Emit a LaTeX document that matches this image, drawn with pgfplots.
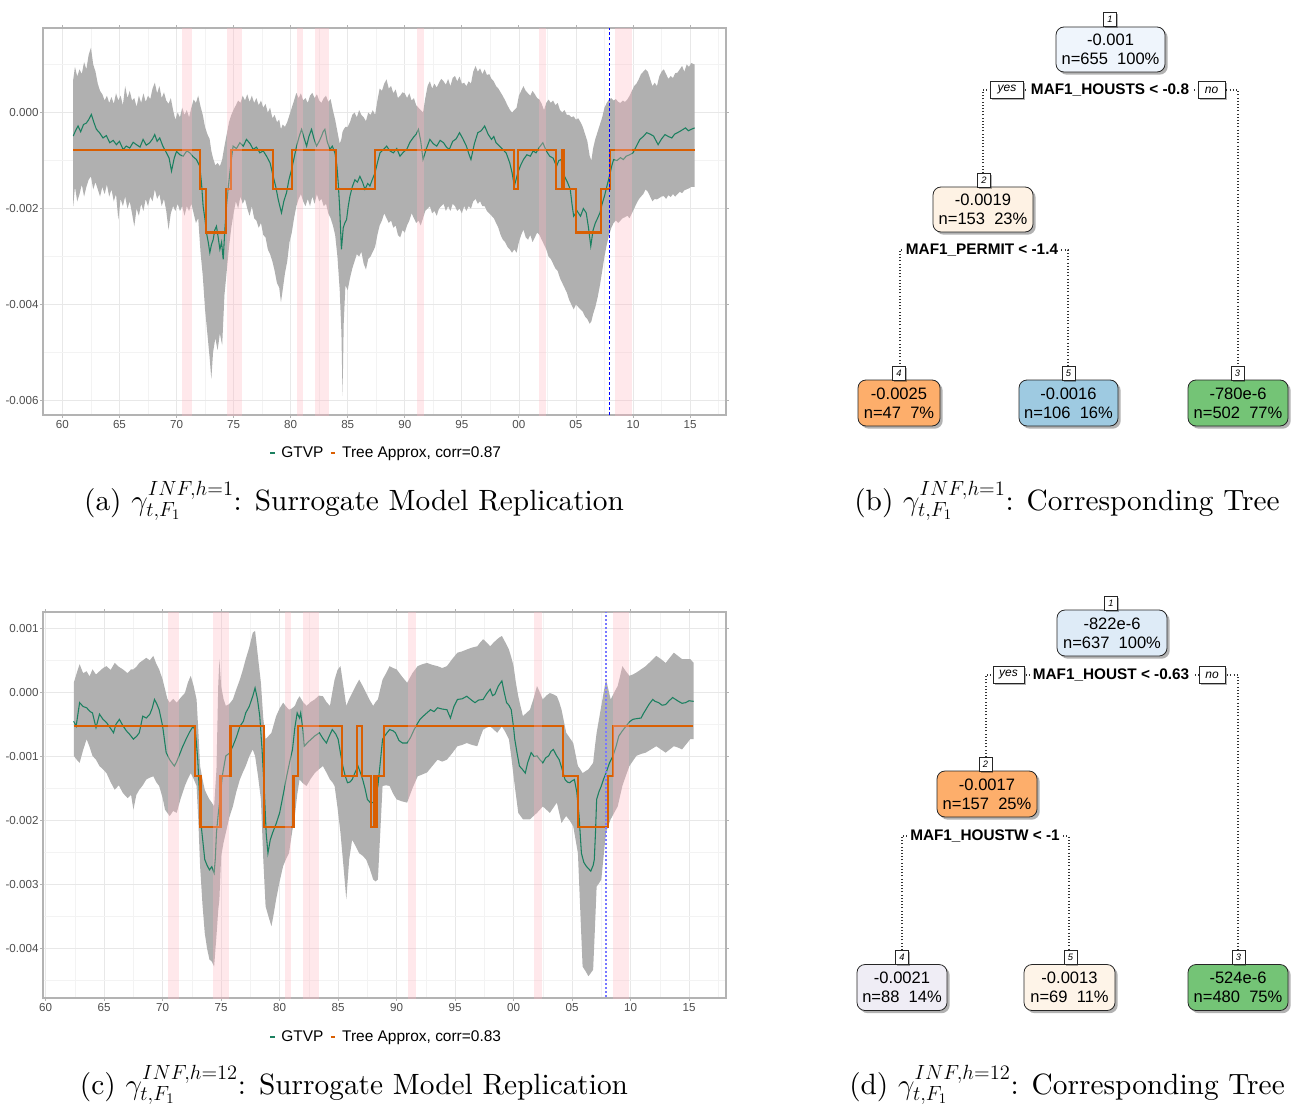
\RequirePackage{fix-cm}
\documentclass[border=0pt]{standalone}
\usepackage{pgfplots}
\pgfplotsset{compat=1.18}
\usepgfplotslibrary{fillbetween}
\usepackage{pgfplotstable}
\usetikzlibrary{shadows}
\usepackage{fontspec}
\newfontfamily\lib{Liberation Sans}
\newfontfamily\capfont{lmroman10-regular}[Extension=.otf]

\definecolor{bandC}{RGB}{176,176,176}
\definecolor{recC}{RGB}{255,182,193}
\definecolor{gtvp}{RGB}{27,128,96}
\definecolor{treeC}{RGB}{217,95,2}
\definecolor{frameC}{RGB}{179,179,179}
\definecolor{gridMaj}{RGB}{232,232,232}
\definecolor{gridMin}{RGB}{243,243,243}
\definecolor{tickC}{RGB}{77,77,77}
\definecolor{nOneB}{RGB}{239,245,252}
\definecolor{nTwoB}{RGB}{254,242,228}
\definecolor{nOrange}{RGB}{253,174,107}
\definecolor{nBlue}{RGB}{158,202,225}
\definecolor{nGreen}{RGB}{116,196,118}
\definecolor{nOneD}{RGB}{222,235,247}
\definecolor{nLav}{RGB}{239,237,245}
\definecolor{nCream}{RGB}{254,244,232}

% ---------------- top panel data (values in units of 0.001) ----------------
\pgfplotstableread{
t lo hi
1960.95 -1.95 0.69
1961.1 -1.55 0.95
1961.3 -1.85 0.75
1961.5 -1.70 0.90
1961.7 -1.50 0.80
1961.9 -1.75 1.05
1962.1 -1.55 0.90
1962.3 -1.40 1.20
1962.5 -1.33 1.35
1962.7 -1.60 1.00
1962.9 -1.45 0.85
1963.1 -1.60 0.60
1963.3 -1.75 0.45
1963.5 -1.55 0.38
1963.7 -1.70 0.25
1963.9 -1.50 0.35
1964.1 -1.75 0.20
1964.3 -1.60 0.32
1964.5 -1.85 0.18
1964.7 -1.70 0.40
1964.9 -2.23 0.25
1965.1 -1.80 0.35
1965.3 -1.95 0.15
1965.5 -1.75 0.55
1965.7 -2.00 0.30
1965.9 -1.85 0.45
1966.1 -2.10 0.25
1966.3 -2.37 0.30
1966.5 -2.00 0.12
1966.7 -2.15 0.35
1966.9 -1.90 0.20
1967.1 -2.05 0.40
1967.3 -1.80 0.22
1967.5 -1.95 0.35
1967.7 -1.75 0.28
1967.9 -1.85 0.50
1968.1 -1.60 0.62
1968.3 -1.80 0.40
1968.5 -1.70 0.55
1968.7 -1.95 0.30
1968.9 -1.80 0.42
1969.1 -2.05 0.25
1969.3 -2.44 0.18
1969.5 -2.10 0.30
1969.7 -1.95 0.05
1969.9 -2.05 -0.15
1970.1 -1.90 0.00
1970.3 -2.05 -0.10
1970.5 -1.95 0.10
1970.7 -2.15 -0.05
1970.9 -1.95 0.05
1971.1 -2.05 -0.10
1971.3 -1.90 0.10
1971.5 -2.10 0.27
1971.7 -2.30 0.20
1971.9 -2.20 0.35
1972.1 -2.90 0.13
1972.3 -3.40 -0.05
1972.5 -4.10 -0.30
1972.7 -4.60 -0.45
1972.9 -5.10 -0.55
1973.05 -5.55 -0.80
1973.2 -5.00 -0.95
1973.4 -4.70 -1.10
1973.6 -4.95 -1.05
1973.8 -4.60 -1.12
1974.0 -4.85 -0.98
1974.2 -3.80 -0.70
1974.4 -3.30 -0.45
1974.6 -2.80 -0.20
1974.8 -2.40 -0.05
1975.0 -2.10 0.06
1975.2 -1.85 0.15
1975.4 -2.00 0.25
1975.6 -1.75 0.20
1975.8 -1.90 0.35
1976.0 -1.80 0.25
1976.2 -2.00 0.38
1976.4 -2.15 0.22
1976.6 -1.95 0.35
1976.8 -2.20 0.20
1977.0 -2.25 0.30
1977.2 -2.40 0.15
1977.4 -2.30 0.25
1977.6 -2.55 0.10
1977.8 -2.60 0.18
1978.0 -2.85 0.00
1978.2 -2.95 0.10
1978.4 -3.10 -0.12
1978.6 -3.30 -0.05
1978.8 -3.55 -0.20
1979.0 -3.65 -0.15
1979.15 -3.95 -0.35
1979.3 -3.70 -0.25
1979.5 -3.35 -0.30
1979.7 -3.10 -0.20
1979.9 -2.70 -0.05
1980.1 -2.50 0.10
1980.3 -2.20 0.25
1980.5 -1.95 0.41
1980.7 -1.80 0.30
1980.9 -1.70 0.40
1981.1 -1.85 0.25
1981.3 -1.95 0.30
1981.5 -1.80 0.20
1981.7 -1.95 0.35
1981.9 -1.75 0.41
1982.1 -1.90 0.30
1982.3 -1.70 0.38
1982.5 -1.85 0.25
1982.7 -1.80 0.20
1982.9 -1.95 0.30
1983.1 -1.90 0.35
1983.3 -2.10 0.22
1983.5 -2.20 0.28
1983.7 -2.35 0.05
1983.9 -2.55 -0.15
1984.1 -3.00 -0.40
1984.3 -3.70 -0.65
1984.45 -4.60 -0.55
1984.55 -5.90 -0.40
1984.65 -4.40 -0.35
1984.8 -3.60 -0.30
1985.0 -3.70 -0.30
1985.2 -3.45 -0.20
1985.4 -3.25 -0.05
1985.6 -3.10 0.00
1985.8 -2.95 -0.10
1986.0 -3.00 0.05
1986.2 -2.90 -0.05
1986.4 -3.15 -0.10
1986.6 -3.27 -0.18
1986.8 -3.05 0.00
1987.0 -3.00 -0.05
1987.2 -2.90 0.05
1987.4 -2.80 -0.05
1987.6 -2.55 0.25
1987.8 -2.35 0.50
1988.0 -2.25 0.45
1988.2 -2.10 0.60
1988.4 -2.20 0.69
1988.6 -2.30 0.50
1988.8 -2.25 0.55
1989.0 -2.40 0.40
1989.2 -2.35 0.48
1989.4 -2.55 0.30
1989.6 -2.60 0.35
1989.8 -2.45 0.42
1990.0 -2.50 0.40
1990.2 -2.35 0.30
1990.4 -2.25 0.40
1990.6 -2.10 0.25
1990.8 -2.20 0.30
1991.0 -2.30 0.15
1991.2 -2.25 0.10
1991.4 -2.35 0.05
1991.6 -2.20 0.00
1991.8 -2.05 0.30
1992.0 -2.00 0.55
1992.2 -1.95 0.65
1992.4 -2.10 0.50
1992.6 -2.05 0.60
1992.8 -2.15 0.52
1993.0 -2.00 0.62
1993.2 -1.95 0.70
1993.4 -1.90 0.65
1993.6 -2.05 0.58
1993.8 -1.95 0.70
1994.0 -2.05 0.55
1994.2 -1.90 0.72
1994.4 -1.95 0.76
1994.6 -2.05 0.65
1994.8 -2.00 0.75
1995.0 -2.10 0.60
1995.2 -1.95 0.62
1995.4 -2.05 0.55
1995.6 -1.95 0.65
1995.8 -2.00 0.60
1996.0 -1.85 0.85
1996.2 -1.80 0.97
1996.4 -1.90 0.85
1996.6 -1.85 0.92
1996.8 -1.95 0.80
1997.0 -1.95 0.90
1997.2 -2.05 0.78
1997.4 -2.10 0.80
1997.6 -2.15 0.70
1997.8 -2.20 0.65
1998.0 -2.30 0.55
1998.2 -2.40 0.50
1998.4 -2.55 0.42
1998.6 -2.65 0.34
1998.8 -2.70 0.25
1999.0 -2.80 0.15
1999.2 -2.85 0.06
1999.4 -2.92 0.00
1999.6 -2.85 0.05
1999.8 -2.92 0.10
2000.0 -2.70 0.35
2000.2 -2.55 0.45
2000.4 -2.44 0.55
2000.6 -2.60 0.45
2000.8 -2.65 0.40
2001.0 -2.55 0.35
2001.2 -2.70 0.45
2001.4 -2.60 0.38
2001.6 -2.50 0.30
2001.8 -2.55 0.27
2002.0 -2.65 0.18
2002.2 -2.75 0.05
2002.4 -2.85 0.20
2002.6 -3.00 0.27
2002.8 -3.05 0.20
2003.0 -3.15 0.25
2003.2 -3.25 0.15
2003.4 -3.30 0.20
2003.6 -3.45 0.05
2003.8 -3.55 0.00
2004.0 -3.65 0.05
2004.2 -3.75 -0.05
2004.4 -3.90 -0.05
2004.6 -4.00 -0.10
2004.8 -4.10 -0.08
2005.0 -4.00 -0.15
2005.2 -4.05 -0.12
2005.4 -4.10 -0.20
2005.6 -4.15 -0.30
2005.8 -4.25 -0.45
2006.0 -4.30 -0.60
2006.2 -4.40 -0.90
2006.35 -4.35 -1.00
2006.5 -4.20 -0.75
2006.7 -4.05 -0.55
2006.9 -3.85 -0.40
2007.1 -3.60 -0.25
2007.3 -3.30 -0.10
2007.5 -3.00 0.10
2007.7 -2.75 0.20
2007.9 -2.55 0.27
2008.1 -2.40 0.30
2008.3 -2.30 0.25
2008.5 -2.25 0.28
2008.7 -2.30 0.22
2008.9 -2.25 0.20
2009.1 -2.20 0.25
2009.3 -2.18 0.22
2009.5 -2.15 0.27
2009.7 -2.20 0.35
2009.9 -2.10 0.45
2010.1 -2.00 0.55
2010.3 -1.90 0.60
2010.5 -1.81 0.69
2010.7 -1.75 0.80
2010.9 -1.70 0.85
2011.1 -1.60 0.90
2011.3 -1.65 0.85
2011.5 -1.75 0.70
2011.7 -1.85 0.55
2011.9 -1.80 0.62
2012.1 -1.81 0.55
2012.3 -1.78 0.75
2012.5 -1.75 0.85
2012.7 -1.74 0.90
2012.9 -1.80 0.80
2013.1 -1.72 0.70
2013.3 -1.76 0.76
2013.5 -1.70 0.72
2013.7 -1.75 0.82
2013.9 -1.70 0.83
2014.1 -1.65 0.90
2014.3 -1.68 0.97
2014.5 -1.62 0.85
2014.7 -1.60 1.00
2014.9 -1.58 0.95
2015.1 -1.55 1.03
2015.4 -1.55 1.00
}\bandA

\pgfplotstableread{
t g
1960.95 -0.49
1961.15 -0.38
1961.37 -0.28
1961.6 -0.40
1961.85 -0.25
1962.1 -0.22
1962.3 -0.15
1962.54 -0.04
1962.75 -0.20
1962.98 -0.35
1963.25 -0.42
1963.56 -0.53
1963.85 -0.48
1964.15 -0.63
1964.45 -0.58
1964.73 -0.67
1965.0 -0.60
1965.32 -0.77
1965.6 -0.70
1965.9 -0.74
1966.2 -0.62
1966.49 -0.67
1966.8 -0.72
1967.07 -0.56
1967.35 -0.68
1967.65 -0.63
1967.9 -0.55
1968.09 -0.46
1968.3 -0.60
1968.53 -0.53
1968.8 -0.70
1969.12 -0.84
1969.35 -0.95
1969.56 -1.22
1969.8 -0.95
1970.0 -0.81
1970.3 -0.88
1970.58 -0.91
1970.9 -0.80
1971.17 -0.84
1971.45 -0.92
1971.75 -0.98
1972.04 -1.12
1972.2 -1.50
1972.33 -1.95
1972.48 -2.20
1972.63 -2.51
1972.78 -2.70
1972.92 -2.92
1973.06 -2.75
1973.21 -2.65
1973.35 -2.45
1973.5 -2.37
1973.65 -2.60
1973.8 -2.85
1973.95 -2.70
1974.09 -3.06
1974.22 -2.50
1974.38 -1.95
1974.52 -1.60
1974.67 -1.26
1974.82 -0.95
1974.96 -0.70
1975.25 -0.75
1975.55 -0.63
1975.85 -0.70
1976.13 -0.56
1976.45 -0.65
1976.72 -0.77
1977.0 -0.72
1977.3 -0.84
1977.6 -0.80
1977.89 -0.91
1978.2 -1.05
1978.47 -1.33
1978.7 -1.55
1978.91 -1.81
1979.05 -1.95
1979.2 -2.09
1979.4 -1.85
1979.64 -1.67
1979.85 -1.40
1980.08 -1.19
1980.3 -0.95
1980.52 -0.70
1980.75 -0.50
1980.96 -0.35
1981.2 -0.55
1981.4 -0.70
1981.6 -0.50
1981.83 -0.35
1982.05 -0.55
1982.27 -0.70
1982.5 -0.60
1982.71 -0.49
1982.85 -0.40
1983.0 -0.35
1983.2 -0.60
1983.44 -0.77
1983.65 -0.70
1983.88 -0.84
1984.05 -1.10
1984.17 -1.47
1984.3 -2.00
1984.45 -2.85
1984.61 -2.40
1984.75 -2.30
1984.9 -2.23
1985.05 -1.95
1985.2 -1.74
1985.4 -1.55
1985.63 -1.40
1985.85 -1.45
1986.07 -1.33
1986.3 -1.45
1986.51 -1.60
1986.75 -1.48
1986.95 -1.53
1987.15 -1.40
1987.39 -1.26
1987.6 -1.05
1987.83 -0.84
1988.1 -0.78
1988.41 -0.70
1988.7 -0.80
1989.0 -0.84
1989.3 -0.75
1989.58 -0.91
1989.9 -0.82
1990.17 -0.77
1990.45 -0.62
1990.75 -0.52
1991.0 -0.45
1991.2 -0.35
1991.4 -0.60
1991.6 -0.98
1991.9 -0.75
1992.2 -0.56
1992.5 -0.65
1992.8 -0.70
1993.1 -0.58
1993.4 -0.63
1993.65 -0.72
1993.9 -0.77
1994.2 -0.60
1994.5 -0.55
1994.8 -0.42
1995.1 -0.55
1995.4 -0.70
1995.6 -0.85
1995.8 -0.98
1996.1 -0.65
1996.4 -0.42
1996.7 -0.38
1997.0 -0.28
1997.3 -0.45
1997.6 -0.56
1997.8 -0.50
1998.0 -0.63
1998.3 -0.70
1998.6 -0.77
1998.9 -0.85
1999.2 -1.05
1999.4 -1.25
1999.6 -1.53
1999.75 -1.40
1999.9 -1.26
2000.15 -1.10
2000.4 -0.98
2000.7 -0.88
2001.0 -0.91
2001.25 -0.80
2001.5 -0.84
2001.8 -0.72
2002.1 -0.63
2002.4 -0.80
2002.7 -0.91
2003.0 -0.95
2003.3 -1.12
2003.5 -1.00
2003.7 -0.98
2003.85 -1.15
2004.0 -1.33
2004.25 -1.45
2004.5 -1.60
2004.65 -1.90
2004.8 -2.16
2005.1 -2.05
2005.4 -2.16
2005.65 -2.00
2005.9 -2.09
2006.1 -2.40
2006.3 -2.78
2006.5 -2.45
2006.7 -2.30
2006.9 -2.20
2007.1 -2.09
2007.3 -1.90
2007.5 -1.74
2007.75 -1.50
2008.0 -1.26
2008.15 -1.10
2008.3 -0.98
2008.6 -1.00
2008.9 -0.94
2009.15 -0.98
2009.4 -0.91
2009.7 -0.88
2010.0 -0.84
2010.3 -0.70
2010.6 -0.56
2010.9 -0.50
2011.2 -0.42
2011.5 -0.45
2011.8 -0.49
2012.0 -0.58
2012.2 -0.67
2012.5 -0.55
2012.8 -0.46
2013.1 -0.50
2013.4 -0.53
2013.65 -0.45
2013.9 -0.42
2014.2 -0.38
2014.6 -0.32
2014.85 -0.38
2015.1 -0.35
2015.4 -0.32
}\gtvpA

\pgfplotstableread{
t v
1960.95 -0.78
1972.04 -1.6
1972.6 -2.5
1974.3 -1.6
1974.75 -0.78
1978.46 -1.6
1980.13 -0.78
1983.96 -1.6
1987.37 -0.78
1999.59 -1.6
1999.94 -0.78
2003.22 -1.6
2003.74 -0.78
2003.95 -1.6
2005.0 -2.5
2007.16 -1.6
2007.98 -0.78
2015.4 -0.78
}\treeA

% ---------------- bottom panel data ----------------
\pgfplotstableread{
t lo hi
1962.4 -0.99 0.15
1962.65 -1.05 0.30
1962.9 -1.10 0.44
1963.2 -0.90 0.30
1963.5 -0.73 0.33
1963.75 -0.85 0.25
1964.0 -0.99 0.36
1964.3 -1.05 0.28
1964.6 -1.15 0.33
1964.9 -1.20 0.38
1965.2 -1.26 0.41
1965.55 -1.40 0.35
1965.9 -1.52 0.46
1966.25 -1.45 0.40
1966.6 -1.57 0.36
1967.0 -1.65 0.30
1967.3 -1.60 0.36
1967.5 -1.83 0.36
1967.75 -1.60 0.40
1968.0 -1.52 0.46
1968.3 -1.45 0.50
1968.6 -1.36 0.54
1968.9 -1.33 0.50
1969.2 -1.31 0.57
1969.45 -1.40 0.45
1969.7 -1.46 0.36
1970.0 -1.65 0.20
1970.2 -1.83 0.05
1970.4 -1.88 -0.10
1970.6 -1.93 -0.16
1970.9 -1.85 -0.10
1971.2 -1.88 -0.16
1971.55 -1.65 -0.08
1971.9 -1.46 -0.01
1972.15 -1.35 0.15
1972.4 -1.26 0.26
1972.65 -1.35 0.10
1972.9 -1.46 -0.11
1973.05 -2.00 -0.60
1973.2 -2.71 -1.15
1973.4 -3.30 -1.35
1973.6 -3.76 -1.52
1973.8 -4.00 -1.60
1974.0 -4.17 -1.67
1974.2 -4.20 -1.72
1974.4 -4.28 -1.78
1974.6 -3.80 -1.20
1974.75 -3.40 0.10
1974.85 -3.23 0.52
1975.0 -2.56 0.10
1975.2 -2.35 -0.10
1975.4 -2.19 -0.21
1975.7 -1.95 -0.18
1976.0 -1.78 -0.11
1976.3 -1.55 0.05
1976.6 -1.36 0.20
1976.85 -1.25 0.35
1977.1 -1.15 0.52
1977.4 -1.00 0.70
1977.7 -0.89 0.93
1977.9 -0.99 0.96
1978.15 -1.30 0.55
1978.4 -1.67 0.15
1978.6 -2.60 -0.40
1978.8 -3.34 -0.73
1979.05 -3.50 -0.68
1979.3 -3.65 -0.63
1979.5 -3.45 -0.50
1979.7 -3.23 -0.37
1980.0 -2.95 -0.25
1980.3 -2.71 -0.16
1980.55 -2.60 -0.22
1980.8 -2.51 -0.27
1981.05 -2.20 -0.25
1981.3 -1.93 -0.21
1981.5 -1.60 -0.12
1981.7 -1.36 -0.06
1982.0 -1.42 -0.15
1982.3 -1.46 -0.21
1982.65 -1.35 -0.15
1983.0 -1.26 -0.11
1983.35 -1.20 -0.05
1983.7 -1.15 -0.06
1984.0 -1.25 -0.15
1984.3 -1.36 -0.21
1984.5 -1.40 0.00
1984.7 -1.46 0.20
1984.95 -1.80 0.35
1985.2 -2.19 0.41
1985.45 -2.70 0.10
1985.7 -3.23 -0.21
1985.95 -2.60 -0.10
1986.2 -2.30 -0.01
1986.5 -2.40 0.10
1986.8 -2.51 0.20
1987.1 -2.55 0.10
1987.4 -2.61 -0.01
1987.7 -2.75 -0.12
1988.0 -2.92 -0.21
1988.2 -2.95 -0.15
1988.4 -2.92 -0.11
1988.6 -2.20 0.05
1988.8 -1.46 0.20
1989.1 -1.45 0.30
1989.4 -1.46 0.41
1989.7 -1.58 0.38
1990.0 -1.67 0.36
1990.45 -1.70 0.25
1990.9 -1.72 0.15
1991.35 -1.50 0.30
1991.8 -1.31 0.41
1992.2 -1.28 0.44
1992.6 -1.25 0.46
1993.05 -1.15 0.43
1993.5 -1.05 0.41
1993.9 -1.08 0.38
1994.3 -1.05 0.41
1994.75 -0.95 0.52
1995.2 -0.84 0.62
1995.6 -0.82 0.64
1996.0 -0.79 0.67
1996.45 -0.82 0.70
1996.9 -0.84 0.72
1997.15 -0.70 0.78
1997.4 -0.58 0.83
1997.7 -0.55 0.78
1998.0 -0.53 0.72
1998.3 -0.58 0.78
1998.6 -0.63 0.83
1998.8 -0.58 0.86
1999.0 -0.53 0.88
1999.3 -0.62 0.78
1999.6 -0.73 0.67
1999.8 -1.00 0.55
2000.0 -1.31 0.41
2000.2 -1.60 0.15
2000.4 -1.88 -0.06
2000.6 -1.93 -0.22
2000.8 -1.98 -0.37
2001.1 -1.98 -0.32
2001.4 -1.98 -0.27
2001.7 -1.93 -0.10
2002.0 -1.88 0.10
2002.25 -1.83 0.00
2002.5 -1.78 -0.11
2002.8 -1.83 -0.05
2003.1 -1.88 -0.01
2003.4 -1.80 -0.03
2003.7 -1.72 -0.06
2003.9 -1.88 -0.15
2004.1 -2.04 -0.27
2004.3 -1.98 -0.45
2004.5 -1.93 -0.63
2004.8 -2.00 -0.71
2005.1 -2.09 -0.79
2005.3 -2.30 -0.97
2005.5 -2.51 -1.15
2005.7 -3.40 -1.20
2005.9 -4.28 -1.26
2006.15 -4.35 -1.23
2006.4 -4.43 -1.20
2006.6 -4.38 -1.15
2006.8 -4.33 -1.10
2006.95 -3.70 -0.85
2007.1 -3.03 -0.63
2007.3 -2.98 -0.42
2007.5 -2.92 -0.21
2007.7 -2.55 0.00
2007.9 -2.19 0.20
2008.1 -2.08 0.05
2008.3 -1.98 -0.11
2008.6 -1.88 0.00
2008.9 -1.78 0.10
2009.1 -1.62 0.25
2009.3 -1.46 0.41
2009.6 -1.30 0.33
2009.9 -1.15 0.26
2010.2 -1.07 0.28
2010.5 -0.99 0.31
2010.9 -0.96 0.36
2011.3 -0.94 0.41
2011.75 -0.89 0.49
2012.2 -0.84 0.57
2012.6 -0.89 0.52
2013.0 -0.94 0.46
2013.35 -0.89 0.54
2013.7 -0.84 0.62
2014.05 -0.86 0.57
2014.4 -0.89 0.52
2014.75 -0.81 0.52
2015.1 -0.73 0.52
2015.4 -0.73 0.46
}\bandB

\pgfplotstableread{
t g
1962.39 -0.45
1962.6 -0.53
1962.9 -0.16
1963.2 -0.22
1963.5 -0.24
1963.8 -0.30
1964.0 -0.32
1964.3 -0.55
1964.6 -0.34
1964.9 -0.42
1965.2 -0.47
1965.5 -0.55
1965.8 -0.63
1966.0 -0.50
1966.3 -0.42
1966.6 -0.52
1966.9 -0.60
1967.2 -0.66
1967.5 -0.73
1967.8 -0.68
1968.0 -0.63
1968.3 -0.37
1968.6 -0.40
1968.9 -0.34
1969.1 -0.25
1969.3 -0.11
1969.5 -0.18
1969.7 -0.27
1970.0 -0.53
1970.3 -0.94
1970.6 -1.05
1971.0 -1.15
1971.2 -1.08
1971.4 -0.99
1971.7 -0.85
1972.0 -0.73
1972.3 -0.62
1972.6 -0.53
1972.8 -0.60
1973.0 -1.05
1973.15 -1.60
1973.3 -2.09
1973.45 -2.35
1973.6 -2.61
1973.8 -2.70
1974.0 -2.77
1974.2 -2.72
1974.4 -2.82
1974.5 -2.60
1974.6 -2.19
1974.75 -1.90
1974.9 -1.67
1975.1 -1.30
1975.4 -0.99
1975.7 -0.95
1976.0 -0.84
1976.3 -0.70
1976.6 -0.53
1976.9 -0.45
1977.1 -0.32
1977.4 -0.22
1977.7 -0.06
1977.9 0.07
1978.1 -0.10
1978.3 -0.37
1978.5 -0.90
1978.7 -1.57
1978.85 -2.20
1979.0 -2.51
1979.2 -2.30
1979.4 -2.19
1979.7 -2.05
1980.0 -1.88
1980.3 -1.60
1980.6 -1.31
1980.9 -1.05
1981.1 -0.89
1981.3 -0.55
1981.5 -0.32
1981.7 -0.40
1981.8 -0.32
1982.0 -0.60
1982.1 -0.84
1982.4 -0.78
1982.7 -0.73
1983.0 -0.68
1983.4 -0.63
1983.7 -0.72
1984.0 -0.79
1984.2 -0.70
1984.5 -0.58
1984.8 -0.65
1985.0 -0.73
1985.2 -0.95
1985.4 -1.15
1985.6 -1.30
1985.8 -1.41
1986.0 -1.40
1986.2 -1.36
1986.45 -1.25
1986.7 -1.15
1986.9 -1.25
1987.1 -1.36
1987.3 -1.50
1987.5 -1.67
1987.75 -1.72
1988.0 -1.72
1988.2 -1.60
1988.4 -1.46
1988.6 -1.10
1988.8 -0.73
1989.1 -0.65
1989.4 -0.58
1989.7 -0.60
1989.9 -0.63
1990.2 -0.75
1990.5 -0.79
1990.9 -0.79
1991.2 -0.70
1991.5 -0.58
1991.8 -0.48
1992.0 -0.42
1992.4 -0.35
1992.9 -0.27
1993.2 -0.30
1993.5 -0.24
1993.9 -0.26
1994.3 -0.27
1994.6 -0.40
1994.9 -0.22
1995.2 -0.11
1995.6 -0.10
1996.0 -0.06
1996.4 -0.12
1996.7 -0.16
1997.0 -0.12
1997.4 -0.11
1997.7 -0.02
1998.0 0.05
1998.2 -0.05
1998.4 -0.03
1998.7 0.10
1999.0 0.18
1999.2 0.00
1999.4 -0.16
1999.6 -0.20
1999.8 -0.27
2000.0 -0.55
2000.1 -0.73
2000.3 -0.95
2000.5 -1.15
2000.75 -1.20
2001.0 -1.26
2001.2 -1.10
2001.5 -0.94
2001.75 -1.00
2002.0 -0.99
2002.25 -1.05
2002.5 -1.10
2002.75 -1.02
2003.0 -0.99
2003.2 -0.92
2003.4 -0.89
2003.65 -0.98
2003.9 -1.05
2004.15 -1.20
2004.4 -1.36
2004.6 -1.40
2004.8 -1.41
2005.0 -1.38
2005.2 -1.36
2005.4 -1.55
2005.6 -1.93
2005.8 -2.51
2006.0 -2.65
2006.2 -2.71
2006.4 -2.75
2006.6 -2.79
2006.8 -2.70
2006.9 -2.61
2007.0 -2.20
2007.1 -1.67
2007.3 -1.55
2007.5 -1.46
2007.7 -1.35
2007.9 -1.26
2008.2 -1.10
2008.5 -0.99
2008.75 -0.85
2009.0 -0.68
2009.3 -0.60
2009.6 -0.53
2009.9 -0.46
2010.2 -0.42
2010.5 -0.41
2010.9 -0.40
2011.1 -0.33
2011.3 -0.27
2011.6 -0.18
2011.9 -0.11
2012.1 -0.14
2012.4 -0.16
2012.7 -0.20
2013.0 -0.19
2013.3 -0.13
2013.6 -0.08
2013.85 -0.11
2014.1 -0.14
2014.4 -0.17
2014.7 -0.16
2015.0 -0.13
2015.4 -0.14
}\gtvpB

\pgfplotstableread{
t v
1962.39 -0.524
1972.78 -1.3
1973.24 -2.1
1974.94 -1.3
1975.80 -0.524
1978.70 -2.1
1981.18 -1.3
1981.55 -0.524
1985.31 -1.3
1986.59 -0.524
1987.01 -1.3
1987.81 -2.1
1988.10 -1.3
1988.20 -2.1
1988.35 -1.3
1988.95 -0.524
2004.23 -1.3
2005.50 -2.1
2008.06 -1.3
2008.48 -0.524
2015.37 -0.524
}\treeB

\pgfplotsset{
  ts/.style={
    scale only axis, anchor=south west,
    width=512.25pt,
    axis line style={draw=frameC, line width=0.8pt},
    tick style={draw=frameC, line width=0.6pt},
    tick align=outside, major tick length=2.2pt, minor tick length=0pt,
    xtick={1960,1965,...,2015},
    xticklabels={60,65,70,75,80,85,90,95,00,05,10,15},
    minor xtick={1962.5,1967.5,...,2017.5},
    grid=both,
    major grid style={draw=gridMaj, line width=0.55pt},
    minor grid style={draw=gridMin, line width=0.4pt},
    ticklabel style={font=\lib\fontsize{8.7}{9}\selectfont, text=tickC},
    xticklabel style={inner sep=0pt, yshift=-2pt},
    yticklabel style={inner sep=0pt, xshift=-1pt},
    legend style={anchor=center, draw=none, fill=none, inner sep=0pt,
      font=\lib\fontsize{11.6}{12}\selectfont, legend columns=2,
      nodes={inner sep=1pt},
      /tikz/every odd column/.append style={column sep=3.5pt},
      /tikz/every even column/.append style={column sep=4pt}},
    legend image code/.code={\draw[#1, line width=1pt] (0pt,0pt) -- (3.5pt,0pt);},
  },
  rec/.style={draw=none, fill=recC, fill opacity=0.32, forget plot},
}

\tikzset{
  leaf/.style={draw=black!85, line width=0.6pt, rounded corners=6pt, inner sep=0pt,
    align=center, font=\lib\fontsize{12.4}{14.3}\selectfont,
    drop shadow={shadow xshift=2pt, shadow yshift=-2pt, opacity=0.3, fill=black}},
  numbox/.style={draw=black!85, fill=white, line width=0.5pt, inner sep=0pt,
    minimum width=9.5pt, minimum height=10.5pt, font=\lib\itshape\fontsize{7}{7}\selectfont,
    drop shadow={shadow xshift=1.2pt, shadow yshift=-1.2pt, opacity=0.3, fill=black}},
  ynbox/.style={draw=black!85, fill=white, line width=0.5pt, inner sep=0pt,
    minimum height=12.5pt, font=\lib\itshape\fontsize{9}{9}\selectfont,
    drop shadow={shadow xshift=1.2pt, shadow yshift=-1.2pt, opacity=0.3, fill=black}},
  split/.style={font=\lib\bfseries\fontsize{11.5}{12}\selectfont, inner xsep=2.5pt, inner ysep=1pt, fill=white},
  dots/.style={draw=black!80, line width=0.8pt, dash pattern=on 0.8pt off 1.6pt},
  capt/.style={anchor=base, inner sep=0pt, font=\capfont\fontsize{22}{26}\selectfont},
}

\begin{document}
\begin{tikzpicture}
\path (0pt,0pt) rectangle (968.25pt,-831.75pt);

% ================= (a) =================
\begin{axis}[ts, at={(32.25pt,-311.25pt)}, height=290.25pt,
  xmin=1958.3, xmax=2018.15, ymin=-6.30, ymax=1.76,
  ytick={-6,-4,-2,0}, yticklabels={-0.006,-0.004,-0.002,0.000},
  minor ytick={-5,-3,-1,1},
  legend style={at={(0.502,-0.098)}}]
\addplot[name path=hiA, draw=none, forget plot] table[x=t,y=hi]{\bandA};
\addplot[name path=loA, draw=none, forget plot] table[x=t,y=lo]{\bandA};
\addplot[fill=bandC, draw=none, forget plot] fill between[of=hiA and loA];
\addplot[gtvp, line width=0.8pt] table[x=t,y=g]{\gtvpA};
\addlegendentry{GTVP}
\addplot[treeC, line width=1.6pt, const plot] table[x=t,y=v]{\treeA};
\addlegendentry{Tree Approx, corr=0.87}
\addplot[rec] coordinates {(1970.52,-10) (1970.52,10) (1971.39,10) (1971.39,-10)};
\addplot[rec] coordinates {(1974.43,-10) (1974.43,10) (1975.72,10) (1975.72,-10)};
\addplot[rec] coordinates {(1980.54,-10) (1980.54,10) (1981.06,10) (1981.06,-10)};
\addplot[rec] coordinates {(1982.12,-10) (1982.12,10) (1983.34,10) (1983.34,-10)};
\addplot[rec] coordinates {(1991.05,-10) (1991.05,10) (1991.67,10) (1991.67,-10)};
\addplot[rec] coordinates {(2001.73,-10) (2001.73,10) (2002.34,10) (2002.34,-10)};
\addplot[rec] coordinates {(2008.42,-10) (2008.42,10) (2009.94,10) (2009.94,-10)};
\addplot[blue, line width=0.75pt, dash pattern=on 2.2pt off 1.6pt, forget plot] coordinates {(2007.92,-10) (2007.92,10)};
\end{axis}

% ================= (c) =================
\begin{axis}[ts, at={(32.25pt,-748.5pt)}, height=289.5pt,
  xmin=1959.77, xmax=2018.16, ymin=-4.77, ymax=1.255,
  ytick={-4,-3,-2,-1,0,1}, yticklabels={-0.004,-0.003,-0.002,-0.001,0.000,0.001},
  minor ytick={-4.5,-3.5,-2.5,-1.5,-0.5,0.5},
  legend style={at={(0.502,-0.101)}}]
\addplot[name path=hiB, draw=none, forget plot] table[x=t,y=hi]{\bandB};
\addplot[name path=loB, draw=none, forget plot] table[x=t,y=lo]{\bandB};
\addplot[fill=bandC, draw=none, forget plot] fill between[of=hiB and loB];
\addplot[gtvp, line width=0.8pt] table[x=t,y=g]{\gtvpB};
\addlegendentry{GTVP}
\addplot[treeC, line width=1.6pt, const plot] table[x=t,y=v]{\treeB};
\addlegendentry{Tree Approx, corr=0.83}
\addplot[rec] coordinates {(1970.45,-10) (1970.45,10) (1971.36,10) (1971.36,-10)};
\addplot[rec] coordinates {(1974.32,-10) (1974.32,10) (1975.66,10) (1975.66,-10)};
\addplot[rec] coordinates {(1980.50,-10) (1980.50,10) (1981.01,10) (1981.01,-10)};
\addplot[rec] coordinates {(1982.03,-10) (1982.03,10) (1983.34,10) (1983.34,-10)};
\addplot[rec] coordinates {(1991.00,-10) (1991.00,10) (1991.65,10) (1991.65,-10)};
\addplot[rec] coordinates {(2001.73,-10) (2001.73,10) (2002.41,10) (2002.41,-10)};
\addplot[rec] coordinates {(2008.48,-10) (2008.48,10) (2009.90,10) (2009.90,-10)};
\addplot[color={rgb,255:red,120;green,120;blue,255}, line width=1pt, dash pattern=on 1.5pt off 1.5pt, forget plot] coordinates {(2007.91,-10) (2007.91,10)};
\end{axis}

\begin{scope}[x=0.75pt, y=-0.75pt]
% captions
\node[capt] at (354,510) {(a) $\gamma_{t,F_1}^{INF,h=1}$: Surrogate Model Replication};
\node[capt] at (1067,510) {(b) $\gamma_{t,F_1}^{INF,h=1}$: Corresponding Tree};
\node[capt] at (354,1094) {(c) $\gamma_{t,F_1}^{INF,h=12}$: Surrogate Model Replication};
\node[capt] at (1067,1094) {(d) $\gamma_{t,F_1}^{INF,h=12}$: Corresponding Tree};

% ---------------- tree (b) ----------------
\draw[dots] (983,173) -- (983,90) -- (1238,90) -- (1238,367);
\draw[dots] (900,367) -- (900,250) -- (1068,250) -- (1068,367);
\node[leaf, fill=nOneB, minimum width=81.75pt, minimum height=33.75pt] at (1110.5,49.5) {-0.001\\n=655\ \ 100\%};
\node[numbox] at (1110,19.5) {1};
\node[ynbox, minimum width=24.75pt] at (1007,90) {yes};
\node[split] at (1110,90) {MAF1\_HOUSTS < -0.8};
\node[ynbox, minimum width=20.25pt] at (1211.5,90) {no};
\node[leaf, fill=nTwoB, minimum width=75pt, minimum height=33.75pt] at (983,209.5) {-0.0019\\n=153\ \ 23\%};
\node[numbox] at (984,180) {2};
\node[split] at (982,250) {MAF1\_PERMIT < -1.4};
\node[leaf, fill=nOrange, minimum width=61.5pt, minimum height=34.5pt] at (899,403) {-0.0025\\n=47\ \ 7\%};
\node[numbox] at (899,373) {4};
\node[leaf, fill=nBlue, minimum width=74.25pt, minimum height=34.5pt] at (1068.5,403) {-0.0016\\n=106\ \ 16\%};
\node[numbox] at (1068.5,373) {5};
\node[leaf, fill=nGreen, minimum width=75pt, minimum height=34.5pt] at (1238,403) {-780e-6\\n=502\ \ 77\%};
\node[numbox] at (1237.5,373) {3};

% ---------------- tree (d) ----------------
\draw[dots] (986,757) -- (986,675) -- (1238,675) -- (1238,950);
\draw[dots] (902,950) -- (902,836) -- (1069,836) -- (1069,950);
\node[leaf, fill=nOneD, minimum width=82.5pt, minimum height=34.5pt] at (1112,633) {-822e-6\\n=637\ \ 100\%};
\node[numbox] at (1111,603) {1};
\node[ynbox, minimum width=23.25pt] at (1008.5,675) {yes};
\node[split] at (1111,675) {MAF1\_HOUST < -0.63};
\node[ynbox, minimum width=19.5pt] at (1212,675) {no};
\node[leaf, fill=nOrange, minimum width=75pt, minimum height=34.5pt] at (987,794) {-0.0017\\n=157\ \ 25\%};
\node[numbox] at (985.5,764) {2};
\node[split] at (985,836) {MAF1\_HOUSTW < -1};
\node[leaf, fill=nLav, minimum width=67.5pt, minimum height=34.5pt] at (902,987.5) {-0.0021\\n=88\ \ 14\%};
\node[numbox] at (902,957) {4};
\node[leaf, fill=nCream, minimum width=68.25pt, minimum height=34.5pt] at (1069.5,987.5) {-0.0013\\n=69\ \ 11\%};
\node[numbox] at (1070.5,957) {5};
\node[leaf, fill=nGreen, minimum width=75pt, minimum height=34.5pt] at (1238,987.5) {-524e-6\\n=480\ \ 75\%};
\node[numbox] at (1238.5,957) {3};
\end{scope}
\end{tikzpicture}
\end{document}
